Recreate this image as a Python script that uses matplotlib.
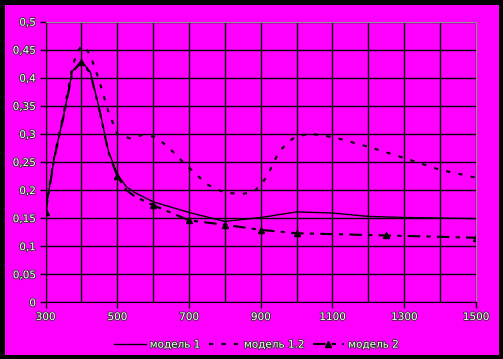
import matplotlib
matplotlib.use('Agg')
import matplotlib.pyplot as plt
import matplotlib.patheffects as pe
from matplotlib.patches import Rectangle
from matplotlib.lines import Line2D

# values
x_m1 = [300, 325, 350, 375, 400, 425, 450, 475, 500, 525, 550, 600, 700, 800, 900, 1000, 1100, 1200, 1300, 1400, 1500]
y_m1 = [0.162, 0.26, 0.331, 0.412, 0.43, 0.41, 0.345, 0.27, 0.228, 0.206, 0.195, 0.179, 0.16, 0.144, 0.151, 0.161, 0.159, 0.153, 0.151, 0.150, 0.149]

x_m12 = [300, 325, 350, 375, 387, 400, 413, 425, 450, 475, 500, 535, 570, 605, 640, 675, 700, 750, 800, 850,
         880, 900, 920, 935, 950, 975, 1000, 1040, 1075, 1110, 1200, 1300, 1400, 1500]
y_m12 = [0.165, 0.262, 0.335, 0.42, 0.443, 0.457, 0.452, 0.44, 0.394, 0.34, 0.30, 0.292, 0.298, 0.295, 0.278, 0.255, 0.24, 0.21, 0.195, 0.193,
         0.197, 0.209, 0.227, 0.248, 0.267, 0.285, 0.296, 0.300, 0.297, 0.293, 0.277, 0.257, 0.236, 0.222]

x_m2 = [300, 325, 350, 375, 400, 425, 450, 475, 500, 525, 550, 600, 700, 800, 900, 1000, 1250, 1500]
y_m2 = [0.16, 0.258, 0.33, 0.41, 0.428, 0.408, 0.343, 0.268, 0.225, 0.2, 0.188, 0.173, 0.146, 0.138, 0.129, 0.123, 0.119, 0.115]
m2_marks = [0, 4, 8, 11, 12, 13, 14, 15, 16, 17]

xticks = [300, 500, 700, 900, 1100, 1300, 1500]
yticks = [0, 0.05, 0.1, 0.15, 0.2, 0.25, 0.3, 0.35, 0.4, 0.45, 0.5]
ytick_labels = ['0', '0,05', '0,1', '0,15', '0,2', '0,25', '0,3', '0,35', '0,4', '0,45', '0,5']
names = ['модель 1', 'модель 1.2', 'модель 2']

magenta = '#ff00ff'
txt_fx = [pe.withStroke(linewidth=1.2, foreground='#303030')]
dash12 = (0, (2, 4))
dash2 = (0, (6, 3, 2, 3))

fig = plt.figure(figsize=(5.03, 3.59), dpi=100, facecolor='black')
bg = Rectangle((5 / 503, 4 / 359), 494 / 503, 350 / 359,
               transform=fig.transFigure, facecolor=magenta,
               edgecolor='none', zorder=-10)
fig.patches.append(bg)
ax = fig.add_axes([0.0905, 0.158, 0.8558, 0.7818])
ax.set_zorder(5)
ax.set_facecolor(magenta)

ax.plot(x_m1, y_m1, color='black', lw=1.0)
ax.plot(x_m12, y_m12, color='black', lw=1.5, linestyle=dash12)
ax.plot(x_m2, y_m2, color='black', lw=1.5, linestyle=dash2,
        marker='^', markersize=5, markevery=m2_marks)

ax.set_xlim(300, 1500)
ax.set_ylim(0, 0.5)
ax.set_xticks(xticks)
ax.set_xticks(range(300, 1501, 100), minor=True)
ax.set_yticks(yticks)
ax.set_yticklabels(ytick_labels)
ax.grid(True, which='both', color='black', lw=1.0)
ax.set_axisbelow(True)
ax.tick_params(which='minor', length=0)
ax.tick_params(which='major', length=4, width=1, color='black', labelsize=7.5,
               labelcolor='white', pad=3)
for lab in ax.get_xticklabels() + ax.get_yticklabels():
    lab.set_path_effects(txt_fx)
ax.spines['left'].set_color('black')
ax.spines['bottom'].set_color('black')
ax.spines['top'].set_color('#909090')
ax.spines['right'].set_color('#909090')

handles = [Line2D([], [], color='black', lw=1.0),
           Line2D([], [], color='black', lw=1.5, linestyle=dash12),
           Line2D([], [], color='black', lw=1.5, linestyle=dash2,
                  marker='^', markersize=5)]
leg = fig.legend(handles, names, loc='center', bbox_to_anchor=(0.51, 0.04),
                 ncol=3, frameon=False, fontsize=7.5, handlelength=3.0,
                 columnspacing=0.8, handletextpad=0.4)
leg.set_zorder(6)
for t in leg.get_texts():
    t.set_color('white')
    t.set_path_effects(txt_fx)

fig.savefig('out.png', dpi=100, facecolor='black')
